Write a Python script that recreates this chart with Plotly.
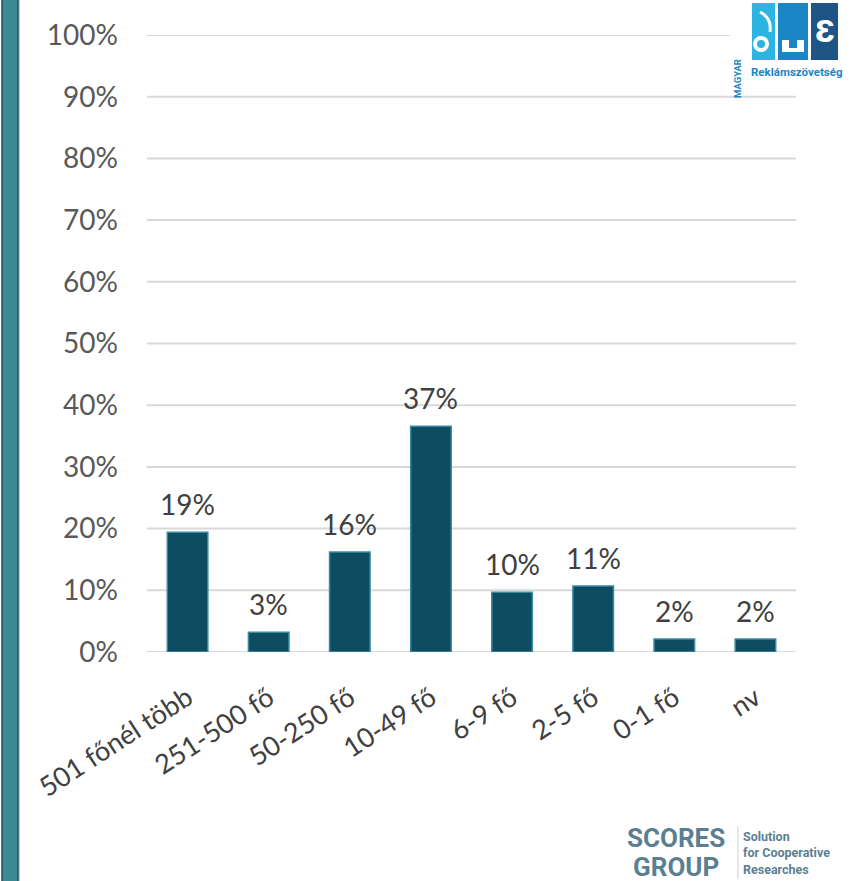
import plotly.graph_objects as go

categories = ["501 főnél több", "251-500 fő", "50-250 fő", "10-49 fő", "6-9 fő", "2-5 fő", "0-1 fő", "nv"]
values = [0.194, 0.032, 0.162, 0.366, 0.097, 0.107, 0.021, 0.021]
labels = ["19%", "3%", "16%", "37%", "10%", "11%", "2%", "2%"]
y_ticks = [0, 0.1, 0.2, 0.3, 0.4, 0.5, 0.6, 0.7, 0.8, 0.9, 1.0]

W, H = 856, 881
L, R, T, B = 147, 60, 35, 229
PW = W - L - R
PH = H - T - B

font_family = "Lato, Open Sans, sans-serif"
bar_color = "#0e4c62"
grid_color = "#d9d9d9"


def px_x(p):
    # pixel -> paper x
    return (p - L) / PW


def px_y(p):
    # pixel (from top) -> paper y
    return (H - B - p) / PH


fig = go.Figure()

fig.add_trace(go.Bar(
    x=categories,
    y=values,
    width=0.5,
    marker={"color": bar_color, "line": {"color": "#3a8aa2", "width": 1.5}},
    hoverinfo="skip",
))

# data labels above the bars
for c, v, t in zip(categories, values, labels):
    fig.add_annotation(x=c, y=v, text=t, showarrow=False, yanchor="bottom", yshift=9,
                       font={"size": 28, "color": "#404040", "family": font_family})

shapes = []
# left decorative stripe
shapes.append(dict(type="rect", xref="paper", yref="paper", x0=px_x(2), x1=px_x(18), y0=px_y(H + 5), y1=px_y(-5),
                   fillcolor="#3a8a94", line={"color": "#2c4a5e", "width": 1.5}, layer="above"))
shapes.append(dict(type="line", xref="paper", yref="paper", x0=px_x(19.5), x1=px_x(19.5), y0=px_y(H), y1=px_y(0),
                   line={"color": "#b7c8d8", "width": 1}))

# gridlines (top line is cut by the logo)
for t in y_ticks:
    x1 = px_x(730) if t == 1.0 else 1
    shapes.append(dict(type="line", xref="paper", yref="y", x0=0, x1=x1, y0=t, y1=t,
                       line={"color": grid_color, "width": 2}, layer="below"))

# MRSZ logo blocks
shapes.append(dict(type="rect", xref="paper", yref="paper", x0=px_x(752), x1=px_x(775), y0=px_y(60), y1=px_y(3),
                   fillcolor="#2cb4e2", line={"width": 0}))
shapes.append(dict(type="rect", xref="paper", yref="paper", x0=px_x(778), x1=px_x(808), y0=px_y(60), y1=px_y(3),
                   fillcolor="#1b86c6", line={"width": 0}))
shapes.append(dict(type="rect", xref="paper", yref="paper", x0=px_x(811), x1=px_x(838), y0=px_y(60), y1=px_y(3),
                   fillcolor="#1c5586", line={"width": 0}))
shapes.append(dict(type="circle", xref="paper", yref="paper", x0=px_x(753), x1=px_x(769), y0=px_y(52), y1=px_y(36),
                   fillcolor="white", line={"width": 0}))
shapes.append(dict(type="circle", xref="paper", yref="paper", x0=px_x(757), x1=px_x(765), y0=px_y(48), y1=px_y(40),
                   fillcolor="#2cb4e2", line={"width": 0}))
shapes.append(dict(type="path", xref="paper", yref="paper",
                   path="M %f,%f Q %f,%f %f,%f" % (px_x(760), px_y(12), px_x(772), px_y(18), px_x(770), px_y(32)),
                   line={"color": "white", "width": 3}))
shapes.append(dict(type="rect", xref="paper", yref="paper", x0=px_x(782), x1=px_x(804), y0=px_y(52), y1=px_y(40),
                   fillcolor="white", line={"width": 0}))
shapes.append(dict(type="rect", xref="paper", yref="paper", x0=px_x(789), x1=px_x(797), y0=px_y(48), y1=px_y(40),
                   fillcolor="#1b86c6", line={"width": 0}))
# SCORES separator
shapes.append(dict(type="line", xref="paper", yref="paper", x0=px_x(738), x1=px_x(738), y0=px_y(879), y1=px_y(826),
                   line={"color": "#c8d0d6", "width": 1}))

fig.update_layout(shapes=shapes)

logo_anns = [
    dict(text="<b>ɛ</b>", x=px_x(825), y=px_y(28), size=40, color="white"),
    dict(text="<b>Reklámszövetség</b>", x=px_x(797), y=px_y(72), size=11.5, color="#1b86c6"),
    dict(text="<b>SCORES</b>", x=px_x(676), y=px_y(838), size=26, color="#5b7f92"),
    dict(text="<b>GROUP</b>", x=px_x(676), y=px_y(867), size=26, color="#5b7f92"),
]
for a in logo_anns:
    fig.add_annotation(text=a["text"], x=a["x"], y=a["y"], xref="paper", yref="paper", showarrow=False,
                       xanchor="center", yanchor="middle",
                       font={"size": a["size"], "color": a["color"], "family": "Roboto, sans-serif"})
fig.add_annotation(text="<b>MAGYAR</b>", x=px_x(745), y=px_y(57), xref="paper", yref="paper", showarrow=False,
                   textangle=-90, font={"size": 9.5, "color": "#1b86c6", "family": "Roboto, sans-serif"})
fig.add_annotation(text="<b>Solution<br>for Cooperative<br>Researches</b>", x=px_x(741), y=px_y(853),
                   xref="paper", yref="paper", showarrow=False, xanchor="left", yanchor="middle", align="left",
                   font={"size": 12.5, "color": "#5b7f92", "family": "Roboto, sans-serif"})

fig.update_layout(
    width=W, height=H,
    margin={"l": L, "r": R, "t": T, "b": B, "autoexpand": False},
    paper_bgcolor="white", plot_bgcolor="white",
    showlegend=False,
    bargap=0.5,
    font={"family": font_family, "color": "#595959", "size": 28},
    xaxis={"showgrid": False, "showline": False, "tickangle": -33, "ticks": "",
           "ticklabelstandoff": 24,
           "tickfont": {"size": 27, "color": "#404040"}},
    yaxis={"range": [0, 1.0], "tickvals": y_ticks, "tickformat": ".0%", "showgrid": False,
           "zeroline": False, "showline": False, "ticks": "", "ticklabelstandoff": 28,
           "tickfont": {"size": 28, "color": "#595959"}},
)

# page body has a default 8px margin; remove it so the figure sits at 0,0
fig.write_html("out.html", config={"displayModeBar": False},
               post_script="document.body.style.margin='0px';")
